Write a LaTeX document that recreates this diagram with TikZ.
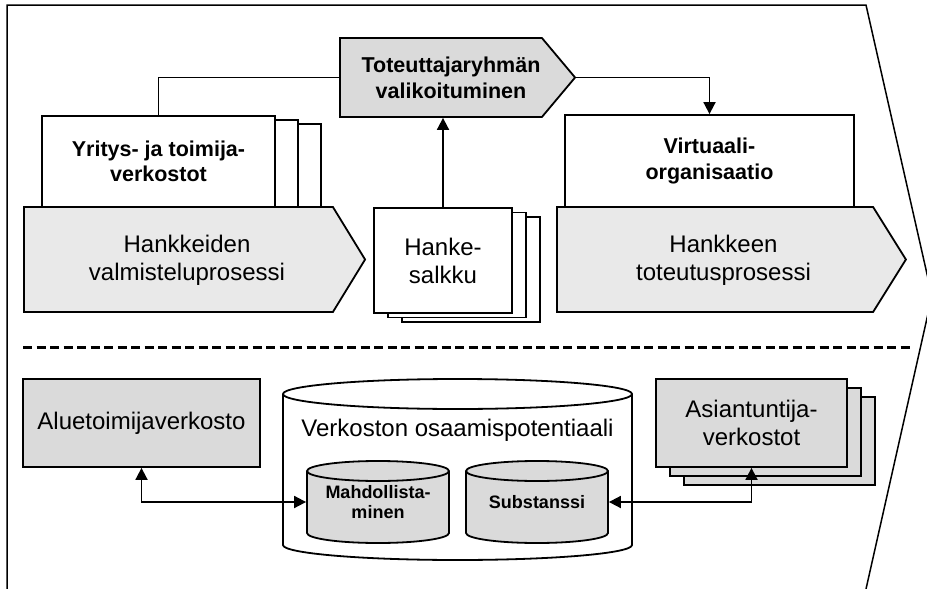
\documentclass[tikz,border=0pt]{standalone}
\usepackage{fontspec}
\setmainfont{Liberation Sans}
\usepackage{tikz}
\usetikzlibrary{shapes.symbols, shadows, arrows.meta}

\definecolor{boxgray}{gray}{0.855}
\definecolor{procgray}{gray}{0.915}

\begin{document}
\begin{tikzpicture}[x=1pt, y=-1pt, line width=1.8pt,
    every node/.style={inner sep=0pt, align=center},
    normaltext/.style={font=\fontsize{24}{28}\selectfont},
    boldtext/.style={font=\bfseries\fontsize{21.5}{25.5}\selectfont},
    smalltext/.style={font=\bfseries\fontsize{18}{20}\selectfont},
    box/.style={draw, rectangle, fill=white},
    process/.style={draw, fill=procgray, signal, signal to=east, minimum height=105pt},
    link/.style={-{Triangle[length=12pt,width=12pt]}},
    twoway/.style={{Triangle[length=12pt,width=12pt]}-{Triangle[length=12pt,width=12pt]}}]
    \useasboundingbox (0,0) rectangle (927,589);
    \clip (0,0) rectangle (927,589);

    % Outer frame
    \draw[line width=1.5pt] (7,589) -- (7,5) -- (866,5) -- (932,296) -- (866,589);

    % Upper part: processes
    \node[box, minimum width=233pt, minimum height=91pt, boldtext,
        double copy shadow={shadow xshift=23pt, shadow yshift=-4pt, fill=white, draw, line width=1.8pt}]
        (yritys) at (158.5,161.5) {Yritys- ja toimija-\\verkostot};
    \node[process, minimum width=341pt, signal pointer angle=117] (valm) at (178.5,259.5) {};
    \node[normaltext] (valmtext) at (187,260) {Hankkeiden\\valmisteluprosessi};

    \node[box, minimum width=138pt, minimum height=105pt, normaltext,
        double copy shadow={shadow xshift=14pt, shadow yshift=-4.5pt, fill=white, draw, line width=1.8pt}]
        (salkku) at (443,260.5) {Hanke-\\salkku};

    \node[process, fill=boxgray, minimum width=235pt, minimum height=79pt, signal pointer angle=100]
        (valik) at (441,77.5) {};
    \node[boldtext] (valiktext) at (451,78) {Toteuttajaryhmän\\valikoituminen};

    \node[box, minimum width=289pt, minimum height=92pt, boldtext] (virt) at (709.5,161) {Virtuaali-\\organisaatio};
    \node[process, minimum width=349pt, signal pointer angle=116] (toteutus) at (715,259.5) {};
    \node[normaltext] (toteutustext) at (723.5,260) {Hankkeen\\toteutusprosessi};

    \draw (yritys.north) |- (valik.west);
    \draw[link] (valik.east) -| (virt.north);
    \draw[link] (salkku.north) -- (salkku.north |- valik.south);

    % Separator
    \draw[line width=3pt, dash pattern=on 9pt off 4.5pt] (23,347) -- (910,347);

    % Lower part: networks
    \node[box, fill=boxgray, minimum width=237pt, minimum height=88pt, normaltext] (alue) at (141.5,423) {Aluetoimijaverkosto};
    \node[box, fill=boxgray, minimum width=191pt, minimum height=88pt, normaltext,
        double copy shadow={shadow xshift=14pt, shadow yshift=-9pt, fill=boxgray, draw, line width=1.8pt}]
        (asiant) at (751.5,423) {Asiantuntija-\\verkostot};

    % Big cylinder
    \draw[fill=white] (283,394) -- (283,545) arc[start angle=180, end angle=0, x radius=174.5, y radius=15]
        -- (632,394) arc[start angle=0, end angle=-180, x radius=174.5, y radius=15] -- cycle;
    \draw (632,394) arc[start angle=0, end angle=180, x radius=174.5, y radius=15];
    \node[normaltext] (pot) at (457.5,430) {Verkoston osaamispotentiaali};

    % Small cylinders
    \draw[fill=boxgray] (307,471) -- (307,533) arc[start angle=180, end angle=0, x radius=71, y radius=10]
        -- (449,471) arc[start angle=0, end angle=-180, x radius=71, y radius=10] -- cycle;
    \draw (449,471) arc[start angle=0, end angle=180, x radius=71, y radius=10];
    \node[smalltext, minimum width=142pt] (mahd) at (378,502) {Mahdollista-\\minen};

    \draw[fill=boxgray] (466,471) -- (466,533) arc[start angle=180, end angle=0, x radius=71, y radius=10]
        -- (608,471) arc[start angle=0, end angle=-180, x radius=71, y radius=10] -- cycle;
    \draw (608,471) arc[start angle=0, end angle=180, x radius=71, y radius=10];
    \node[smalltext, minimum width=142pt] (subst) at (537,502) {Substanssi};

    \draw[twoway] (alue.south) |- (mahd.west);
    \draw[twoway] (asiant.south) |- (subst.east);

\end{tikzpicture}
\end{document}
